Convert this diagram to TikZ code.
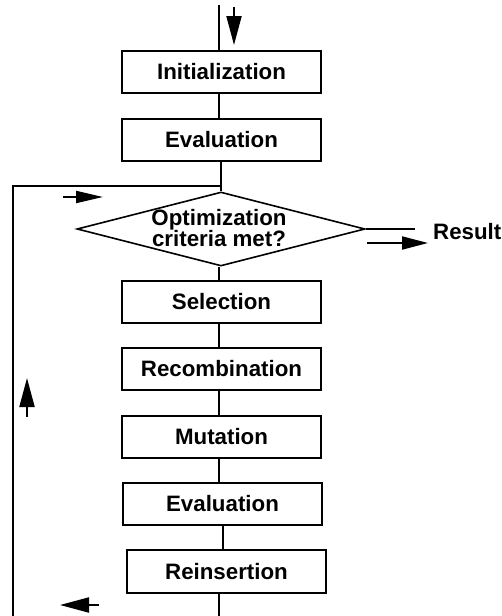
\documentclass[tikz,border=0pt]{standalone}
\usepackage{fontspec}
\setmainfont{Liberation Sans}
\usetikzlibrary{shapes.geometric,arrows.meta}
\tikzset{
  stepbox/.style={draw, line width=1.7pt, minimum width=199pt, minimum height=42pt, inner sep=0pt,
    font=\fontsize{22.3}{16}\selectfont\bfseries},
  decision/.style={draw, diamond, line width=1.6pt, minimum width=288pt, minimum height=74pt, inner sep=0pt},
  conn/.style={line width=2.7pt},
  flowarrow/.style={line width=2pt, -{Triangle[length=29pt,width=15pt]}},
  smallarrow/.style={line width=2pt, -{Triangle[length=27pt,width=12pt]}},
  lbl/.style={font=\fontsize{22.3}{16}\selectfont\bfseries, inner sep=0pt, align=center}
}
\begin{document}
\begin{tikzpicture}[x=1pt,y=-1pt]
\useasboundingbox (0,0) rectangle (502,616);
% boxes
\node[stepbox] (init) at (221.5,72) {Initialization};
\node[stepbox] (eval1) at (221.5,140) {Evaluation};
\node[decision] (dia) at (221,229) {};
\node[lbl] (diatext) at (219,228) {Optimization\\criteria met?};
\node[stepbox] (sel) at (221.5,302) {Selection};
\node[stepbox] (recomb) at (221.5,369) {Recombination};
\node[stepbox] (mut) at (221.5,437) {Mutation};
\node[stepbox] (eval2) at (222.5,504) {Evaluation};
\node[stepbox, minimum height=43pt] (reins) at (226.5,571.5) {Reinsertion};
\node[lbl, anchor=base west] (res) at (433,239) {Result};
% coordinates
\coordinate (intop) at (219,5);
\coordinate (lj) at (221,186);
\coordinate (lb) at (13,616);
\coordinate (resend) at (415,229);
\coordinate (bottom) at (219,616);
% connectors
\draw[conn] (intop) -- (intop |- init.north);
\draw[conn] ([xshift=-2.5pt]init.south) -- ([xshift=-2.5pt]eval1.north);
\draw[conn] (dia.north |- eval1.south) -- (dia.north);
\draw[conn] (lj) -- (lj -| lb) -- (lb);
\draw[conn] (dia.east) -- (resend);
\draw[conn] ([xshift=-2pt]dia.south) -- ([xshift=-2pt]dia.south |- sel.north);
\draw[conn] ([xshift=-2.5pt]sel.south) -- ([xshift=-2.5pt]recomb.north);
\draw[conn] ([xshift=-2.5pt]recomb.south) -- ([xshift=-2.5pt]mut.north);
\draw[conn] ([xshift=-2.5pt]mut.south) -- ([xshift=-2.5pt]mut.south |- eval2.north);
\draw[conn] ([xshift=0.5pt]eval2.south) -- ([xshift=0.5pt]eval2.south |- reins.north);
\draw[conn] (bottom |- reins.south) -- (bottom);
% direction arrows
\coordinate (a1s) at (234,7);  \coordinate (a1e) at (234,45);
\coordinate (a2s) at (63,197); \coordinate (a2e) at (103,197);
\coordinate (a3s) at (367,243); \coordinate (a3e) at (428,243);
\coordinate (a4s) at (27,417); \coordinate (a4e) at (27,378);
\coordinate (a5s) at (99,605); \coordinate (a5e) at (60,605);
\draw[flowarrow] (a1s) -- (a1e);
\draw[smallarrow] (a2s) -- (a2e);
\draw[line width=2pt, -{Triangle[length=26pt,width=13pt]}] (a3s) -- (a3e);
\draw[flowarrow] (a4s) -- (a4e);
\draw[flowarrow] (a5s) -- (a5e);
\end{tikzpicture}
\end{document}
